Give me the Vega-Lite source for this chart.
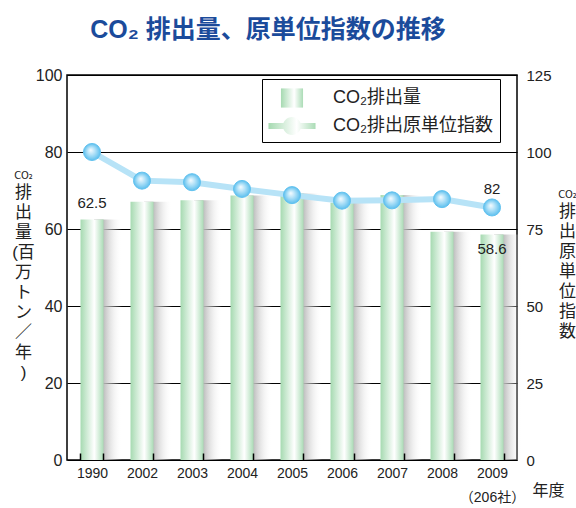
{
  "$schema": "https://vega.github.io/schema/vega-lite/v6.json",
  "width": 450,
  "height": 385,
  "autosize": "none",
  "padding": {"left": 67, "top": 75, "right": 59, "bottom": 48},
  "background": "white",
  "config": {
    "font": "Liberation Sans, Noto Sans CJK JP",
    "view": {"stroke": "#000000", "strokeWidth": 1.5},
    "axis": {"labelColor": "#222222", "titleColor": "#222222", "titleFontWeight": "normal", "labelFont": "Liberation Sans, Noto Sans CJK JP", "titleFont": "Liberation Sans, Noto Sans CJK JP"}
  },
  "title": {
    "text": "CO₂ 排出量、原単位指数の推移",
    "font": "Liberation Sans, Noto Sans CJK JP",
    "fontSize": 25,
    "fontWeight": "bold",
    "color": "#1b4b9b",
    "anchor": "middle",
    "baseline": "alphabetic",
    "offset": 4,
    "dx": -24
  },
  "data": {
    "values": [
      {"year": "1990", "series": "CO₂排出量", "value": 62.5},
      {"year": "2002", "series": "CO₂排出量", "value": 67.1},
      {"year": "2003", "series": "CO₂排出量", "value": 67.5},
      {"year": "2004", "series": "CO₂排出量", "value": 68.7},
      {"year": "2005", "series": "CO₂排出量", "value": 69.2},
      {"year": "2006", "series": "CO₂排出量", "value": 66.8},
      {"year": "2007", "series": "CO₂排出量", "value": 68.8},
      {"year": "2008", "series": "CO₂排出量", "value": 59.3},
      {"year": "2009", "series": "CO₂排出量", "value": 58.6},
      {"year": "1990", "series": "CO₂排出原単位指数", "value": 100},
      {"year": "2002", "series": "CO₂排出原単位指数", "value": 90.7},
      {"year": "2003", "series": "CO₂排出原単位指数", "value": 90.2},
      {"year": "2004", "series": "CO₂排出原単位指数", "value": 88},
      {"year": "2005", "series": "CO₂排出原単位指数", "value": 86},
      {"year": "2006", "series": "CO₂排出原単位指数", "value": 84.2},
      {"year": "2007", "series": "CO₂排出原単位指数", "value": 84.3},
      {"year": "2008", "series": "CO₂排出原単位指数", "value": 84.7},
      {"year": "2009", "series": "CO₂排出原単位指数", "value": 82}
    ]
  },
  "encoding": {
    "x": {
      "field": "year",
      "type": "nominal",
      "sort": null,
      "scale": {"paddingInner": 0.54, "paddingOuter": 0.27},
      "axis": {
        "zindex": 1,
        "labelAngle": 0,
        "labelFontSize": 14,
        "labelPadding": 13,
        "labelLineHeight": 24,
        "labelBaseline": "top",
        "labelExpr": "datum.value == '2009' ? ['2009', '（206社）'] : datum.value",
        "domain": false,
        "ticks": true,
        "tickBand": "extent",
        "tickSize": -7,
        "tickColor": "#000000",
        "tickWidth": 1.5,
        "title": "年度",
        "titleFontSize": 16,
        "titleAngle": 0,
        "titleAlign": "center",
        "titleBaseline": "middle",
        "titleX": 481,
        "titleY": 30
      }
    }
  },
  "layer": [
    {
      "encoding": {
        "y": {
          "field": "value",
          "type": "quantitative",
          "scale": {"domain": [0, 100], "nice": false},
          "axis": {
            "orient": "left",
            "values": [0, 20, 40, 60, 80, 100],
            "grid": true,
            "gridColor": "#000000",
            "gridWidth": 1,
            "gridOpacity": 1,
            "domain": false,
            "ticks": false,
            "labelFontSize": 16,
            "labelPadding": 5,
            "title": ["排", "出", "量", "(百", "万", "ト", "ン", "／", "年", ")"],
            "titleFontSize": 17,
            "titleLineHeight": 20,
            "titleAngle": 0,
            "titleAlign": "center",
            "titleBaseline": "top",
            "titleX": -44,
            "titleY": 109
          }
        }
      },
      "layer": [
        {
          "transform": [{"filter": "datum.series === 'CO₂排出量'"}],
          "mark": {
            "type": "bar",
            "width": 28,
            "xOffset": 16,
            "fill": {
              "gradient": "linear",
              "x1": 0, "y1": 0, "x2": 1, "y2": 0,
              "stops": [
                {"offset": 0, "color": "#a9a9a9"},
                {"offset": 0.3, "color": "#b6b6b6"},
                {"offset": 1, "color": "rgba(255,255,255,0)"}
              ]
            }
          }
        },
        {
          "transform": [{"filter": "datum.series === 'CO₂排出量'"}],
          "mark": {
            "type": "bar",
            "strokeWidth": 0,
            "fill": {
              "gradient": "linear",
              "x1": 0, "y1": 0, "x2": 1, "y2": 0,
              "stops": [
                {"offset": 0, "color": "#a6dab1"},
                {"offset": 0.6, "color": "#ffffff"},
                {"offset": 1, "color": "#abdcb6"}
              ]
            }
          },
          "encoding": {
            "stroke": {
              "field": "series",
              "type": "nominal",
              "scale": {
                "domain": ["CO₂排出量", "CO₂排出原単位指数"],
                "range": ["#a6dab1", "#62c2ef"]
              },
              "legend": {
                "orient": "none",
                "legendX": 195,
                "legendY": 4,
                "direction": "vertical",
                "title": null,
                "fillColor": "white",
                "strokeColor": "#000000",
                "padding": 7,
                "rowPadding": 6,
                "symbolSize": 576,
                "symbolOffset": 11,
                "symbolStrokeWidth": 0,
                "labelOffset": 29,
                "labelFontSize": 18,
                "labelColor": "#222222",
                "labelFont": "Liberation Sans, Noto Sans CJK JP",
                "encode": {
                  "legend": {"strokeWidth": {"value": 1.2}},
                  "symbols": {
                    "strokeWidth": {"value": 0},
                    "opacity": {"value": 1},
                    "fill": {"value": {"expr": "datum.value === 'CO₂排出量' ? {gradient: 'linear', x1: 0, y1: 0, x2: 1, y2: 0, stops: [{offset: 0, color: '#a6dab1'}, {offset: 0.6, color: '#ffffff'}, {offset: 1, color: '#abdcb6'}]} : {gradient: 'linear', x1: 0, y1: 0, x2: 1, y2: 0, stops: [{offset: 0, color: '#b5e2f6'}, {offset: 0.3, color: '#b5e2f6'}, {offset: 0.31, color: '#5ec0ee'}, {offset: 0.42, color: '#d2effc'}, {offset: 0.55, color: '#a3daf6'}, {offset: 0.69, color: '#5ec0ee'}, {offset: 0.7, color: '#b5e2f6'}, {offset: 1, color: '#b5e2f6'}]}"}}
                  }
                }
              }
            }
          }
        }
      ]
    },
    {
      "encoding": {
        "y": {
          "field": "value",
          "type": "quantitative",
          "scale": {"domain": [0, 100], "nice": false},
          "axis": {
            "orient": "left",
            "grid": false,
            "domain": false,
            "ticks": false,
            "labels": false,
            "title": "CO₂",
            "titleFont": "DejaVu Sans Condensed",
            "titleFontSize": 11,
            "titleAngle": 0,
            "titleAlign": "center",
            "titleBaseline": "middle",
            "titleX": -44,
            "titleY": 100
          }
        }
      },
      "layer": [
        {
          "transform": [{"filter": "datum.series === 'CO₂排出量' && datum.year === '1990'"}],
          "mark": {"type": "text", "fontSize": 15, "color": "#222222", "baseline": "alphabetic", "dy": -11},
          "encoding": {"text": {"field": "value", "type": "quantitative", "format": ".1f"}}
        },
        {
          "transform": [{"filter": "datum.series === 'CO₂排出量' && datum.year === '2009'"}],
          "mark": {"type": "text", "fontSize": 15, "color": "#222222", "baseline": "alphabetic", "dy": 20},
          "encoding": {"text": {"field": "value", "type": "quantitative", "format": ".1f"}}
        }
      ]
    },
    {
      "encoding": {
        "y": {
          "field": "value",
          "type": "quantitative",
          "scale": {"domain": [0, 125], "nice": false},
          "axis": {
            "orient": "right",
            "values": [0, 25, 50, 75, 100, 125],
            "grid": false,
            "domain": false,
            "ticks": false,
            "labelFontSize": 15,
            "labelPadding": 9,
            "title": ["排", "出", "原", "単", "位", "指", "数"],
            "titleFontSize": 17,
            "titleLineHeight": 20,
            "titleAngle": 0,
            "titleAlign": "center",
            "titleBaseline": "top",
            "titleX": 50,
            "titleY": 128
          }
        }
      },
      "layer": [
        {
          "transform": [{"filter": "datum.series === 'CO₂排出原単位指数'"}],
          "mark": {"type": "line", "stroke": "#b7e3f7", "strokeWidth": 6}
        },
        {
          "transform": [{"filter": "datum.series === 'CO₂排出原単位指数'"}],
          "mark": {
            "type": "point",
            "filled": true,
            "size": 290,
            "strokeWidth": 1,
            "opacity": 1,
            "fill": {
              "gradient": "radial",
              "x1": 0.42, "y1": 0.38, "r1": 0,
              "x2": 0.5, "y2": 0.5, "r2": 0.5,
              "stops": [
                {"offset": 0, "color": "#f7fcff"},
                {"offset": 0.45, "color": "#b3e2f8"},
                {"offset": 1, "color": "#5cbfee"}
              ]
            }
          },
          "encoding": {
            "stroke": {"field": "series", "type": "nominal"},
            "shape": {
              "field": "series",
              "type": "nominal",
              "scale": {
                "domain": ["CO₂排出量", "CO₂排出原単位指数"],
                "range": [
                  "M-0.92,-0.8H0.92V0.8H-0.92Z",
                  "M-1.96,-0.25H1.96V0.25H-1.96Z M0.75,0A0.75,0.75 0 1,1 -0.75,0A0.75,0.75 0 1,1 0.75,0Z"
                ]
              },
              "condition": {"test": "datum.series !== ''", "value": "circle"},
              "legend": {"title": null}
            }
          }
        }
      ]
    },
    {
      "encoding": {
        "y": {
          "field": "value",
          "type": "quantitative",
          "scale": {"domain": [0, 125], "nice": false},
          "axis": {
            "orient": "right",
            "grid": false,
            "domain": false,
            "ticks": false,
            "labels": false,
            "title": "CO₂",
            "titleFont": "DejaVu Sans Condensed",
            "titleFontSize": 11,
            "titleAngle": 0,
            "titleAlign": "center",
            "titleBaseline": "middle",
            "titleX": 50,
            "titleY": 119
          }
        }
      },
      "layer": [
        {
          "transform": [{"filter": "datum.series === 'CO₂排出原単位指数' && datum.year === '2009'"}],
          "mark": {"type": "text", "fontSize": 15, "color": "#222222", "baseline": "alphabetic", "dy": -13},
          "encoding": {"text": {"field": "value", "type": "quantitative", "format": "d"}}
        }
      ]
    }
  ],
  "resolve": {"scale": {"y": "independent"}}
}
